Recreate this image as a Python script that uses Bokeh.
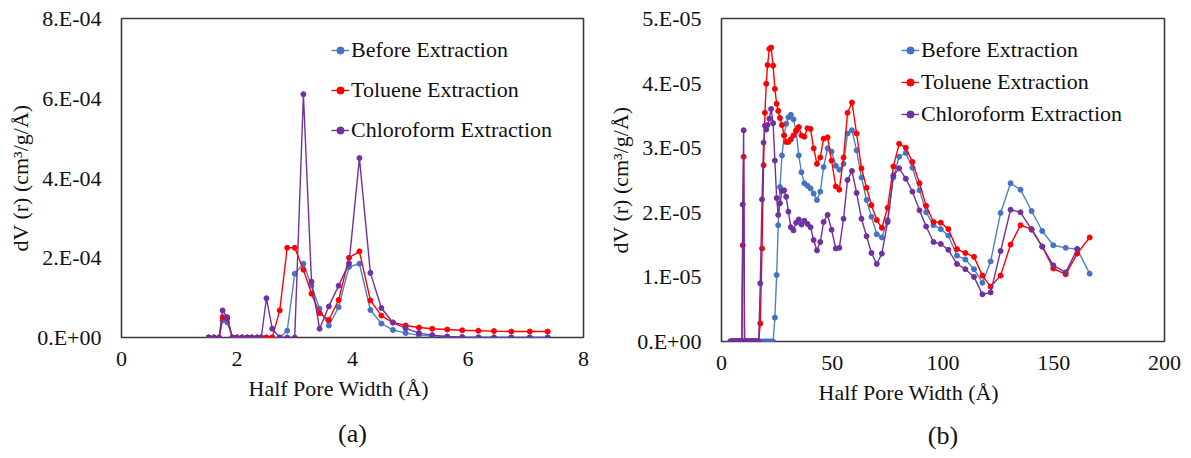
from bokeh.plotting import figure
from bokeh.models import FixedTicker, Title, Legend, LegendItem, Range1d
from bokeh.layouts import row, column
from bokeh.embed import file_html
from bokeh.resources import INLINE

# ---------------- Panel (a) data ----------------
half_width_a = [1.51, 1.60, 1.69, 1.75, 1.83, 1.92, 2.00, 2.09, 2.18, 2.26, 2.35, 2.42,
                2.51, 2.61, 2.74, 2.87, 3.00, 3.15, 3.29, 3.43, 3.59, 3.76, 3.94, 4.12,
                4.31, 4.50, 4.70, 4.92, 5.15, 5.38, 5.64, 5.90, 6.18, 6.45, 6.75, 7.07, 7.38]
before_a = [0, 0, 0, 0.43, 0.38, 0, 0, 0, 0, 0, 0, 0,
            0, 0, 0, 0.17, 1.60, 1.85, 1.30, 0.72, 0.30, 0.76, 1.77, 1.85,
            0.69, 0.35, 0.19, 0.11, 0.06, 0.035, 0.02, 0.01, 0.005, 0, 0, 0, 0]
toluene_a = [0, 0, 0, 0.51, 0.48, 0, 0, 0, 0, 0, 0, 0,
             0, 0, 0.68, 2.25, 2.25, 1.70, 1.10, 0.61, 0.44, 0.94, 2.00, 2.16,
             0.93, 0.55, 0.375, 0.30, 0.25, 0.22, 0.20, 0.18, 0.17, 0.16, 0.15, 0.15, 0.15]
chloroform_a = [0, 0, 0, 0.68, 0.51, 0, 0, 0, 0, 0, 0, 0,
                0.985, 0.22, 0, 0, 0, 6.10, 1.40, 0.22, 0.78, 1.30, 1.86, 4.50,
                1.62, 0.74, 0.375, 0.23, 0.11, 0.06, 0.025, 0.01, 0, 0, 0, 0, 0]
scale_a = 1e-4
yticks_a = [0, 2e-4, 4e-4, 6e-4, 8e-4]
ylabels_a = ["0.E+00", "2.E-04", "4.E-04", "6.E-04", "8.E-04"]
xticks_a = [0, 2, 4, 6, 8]

# ---------------- Panel (b) data ----------------
half_width_b = [4.0, 4.4, 4.8, 5.2, 5.6, 6.0, 6.4, 6.8, 7.2, 7.6, 8.0, 8.4, 8.8, 9.2, 9.6, 10.0, 10.4,
                10.8, 11.2, 11.6, 12.0, 12.4, 12.8, 13.2, 13.6, 14.0, 14.4, 14.8, 15.2, 15.6, 16.0, 16.4, 16.8,
                17.5, 18.3, 19.0, 19.6, 20.2, 20.8, 21.6, 22.4, 23.3, 24.1, 24.9, 25.6, 26.4, 27.3, 28.3,
                29.2, 30.2, 31.3, 32.5, 33.7, 34.9, 36.1, 37.4, 38.8, 40.2, 41.6, 43.1, 44.6, 46.1, 47.9,
                49.7, 51.6, 53.2, 55.1, 56.9, 58.9, 61.0, 63.2, 65.5, 67.7, 70.1, 72.4, 75.0, 77.6, 80.2,
                83.2, 86.2, 89.4, 92.4, 95.7, 99.0, 102.4, 106.3, 110.1, 114.0, 117.8, 121.5, 126.0, 130.5,
                135.0, 140.0, 144.8, 149.8, 155.4, 160.6, 166.2]
nan = float("nan")
before_b = [0] * 33 + [
    0, 0, 0, 0, 0, 0, 0, 0, 0, 0.37, 1.03, 1.80, 2.39, 2.88, 3.19,
    3.37, 3.47, 3.51, 3.44, 3.25, 2.88, 2.62, 2.45, 2.41, 2.37, 2.29, 2.19, 2.32, 2.70, 2.99,
    2.94, 2.72, 2.66, 2.75, 3.22, 3.27, 2.96, 2.54, 2.19, 1.93, 1.66, 1.61, 1.88, 2.54, 2.86,
    2.92, 2.69, 2.34, 2.00, 1.80, 1.74, 1.64, 1.33, 1.27, 1.12, 0.91, 1.24, 1.99, 2.45,
    2.35, 2.02, 1.71, 1.49, 1.45, 1.43, 1.05]
toluene_b = [0] * 14 + [1.49, 2.86] + [0] * 17 + [
    0.28, 1.44, 2.73, 3.54, 3.99, 4.28, 4.53, 4.55, 4.27, 3.91, 3.68, 3.57, 3.46, 3.35, 3.19,
    3.09, 3.09, 3.13, 3.19, 3.27, 3.32, 3.19, 3.17, 3.30, 3.29, 2.99, 2.75, 2.85, 3.14, 3.16,
    2.80, 2.40, 2.35, 2.85, 3.54, 3.70, 3.22, 2.68, 2.38, 2.11, 1.88, 1.76, 2.07, 2.71, 3.06,
    3.00, 2.78, 2.45, 2.10, 1.85, 1.84, 1.74, 1.43, 1.37, 1.31, 1.02, 0.85, 1.02, 1.50,
    1.80, 1.74, 1.47, 1.13, 1.04, 1.36, 1.61]
chloroform_b = [0] * 14 + [2.12, 3.27] + [0] * 17 + [
    0.90, 2.20, 3.08, 3.34, 3.28, 3.35, 3.45, 3.60, 3.38, 2.80, 2.22, 1.96, 2.14, 2.33, 2.34,
    2.24, 2.01, 1.77, 1.72, 1.84, 1.89, 1.81, 1.87, 1.82, 1.77, 1.57, 1.41, 1.54, 1.85, 1.96,
    1.73, 1.44, 1.45, 1.90, 2.50, 2.64, 2.30, 1.90, 1.63, 1.37, 1.20, 1.36, 1.85, 2.57, 2.68,
    2.52, 2.32, 2.03, 1.78, 1.54, 1.51, 1.42, 1.20, 1.12, 1.00, 0.73, 0.76, 1.40, 2.04,
    2.00, 1.73, 1.47, 1.18, 1.07, 1.43, nan]
scale_b = 1e-5
yticks_b = [0, 1e-5, 2e-5, 3e-5, 4e-5, 5e-5]
ylabels_b = ["0.E+00", "1.E-05", "2.E-05", "3.E-05", "4.E-05", "5.E-05"]
xticks_b = [0, 50, 100, 150, 200]

series_names = ["Before Extraction", "Toluene Extraction", "Chloroform Extraction"]
line_colors = ["#4F81BD", "#FF0000", "#7030A0"]
dot_colors = ["#4472C4", "#FF0000", "#7030A0"]
x_title = "Half Pore Width (Å)"
y_title = "dV (r) (cm³/g/Å)"

FONT = "Liberation Serif"
LEG_FONT = "Times New Roman"
TXT = "#111111"


def make_panel(xs, ys_list, scale, xr, yr, xticks, yticks, ylabels, caption,
               width, left, right, bottom, legend_loc, legend_spacing, xlab_offset,
               xlab_standoff, cap_standoff):
    p = figure(width=width, height=458, x_range=Range1d(*xr), y_range=Range1d(*yr),
               output_backend="svg", toolbar_location=None,
               min_border_left=left, min_border_right=right,
               min_border_top=18, min_border_bottom=bottom)
    p.xgrid.grid_line_color = None
    p.ygrid.grid_line_color = None
    p.outline_line_color = "#3a3a3a"
    p.outline_line_width = 1.6
    p.background_fill_color = "white"
    p.border_fill_color = "white"

    items = []
    for name, vals, lc, dc in zip(series_names, ys_list, line_colors, dot_colors):
        yv = [v * scale for v in vals]
        r1 = p.line(xs, yv, line_color=lc, line_width=1.4)
        r2 = p.scatter(xs, yv, size=5, fill_color=dc, line_color=dc)
        items.append(LegendItem(label=name, renderers=[r1, r2]))

    leg = Legend(items=items, location=legend_loc, orientation="vertical",
                 label_text_font=LEG_FONT, label_text_font_size="22px",
                 label_text_color=TXT, label_height=22, glyph_height=22,
                 glyph_width=18, label_standoff=2, spacing=legend_spacing,
                 padding=0, margin=0, border_line_alpha=0,
                 background_fill_alpha=0)
    p.add_layout(leg)

    for ax in (p.xaxis[0], p.yaxis[0]):
        ax.axis_line_color = None
        ax.major_tick_line_color = None
        ax.minor_tick_line_color = None
        ax.major_label_text_font = FONT
        ax.major_label_text_font_size = "22px"
        ax.major_label_text_color = TXT

    p.xaxis.ticker = FixedTicker(ticks=xticks)
    p.yaxis.ticker = FixedTicker(ticks=yticks)
    p.yaxis.major_label_overrides = {t: l for t, l in zip(yticks, ylabels)}
    p.xaxis.major_label_standoff = 8
    p.yaxis.major_label_standoff = 14

    p.add_layout(Title(text=y_title, align="center", text_font=FONT,
                       text_font_size="22px", text_font_style="normal",
                       text_color=TXT, standoff=4), "left")
    p.add_layout(Title(text=x_title, align="left", offset=xlab_offset, text_font=FONT,
                       text_font_size="22px", text_font_style="normal",
                       text_color=TXT, standoff=xlab_standoff), "below")
    p.add_layout(Title(text=caption, align="center", text_font=FONT,
                       text_font_size="26px", text_font_style="normal",
                       text_color=TXT, standoff=cap_standoff), "below")
    return p


pa = make_panel(half_width_a, [before_a, toluene_a, chloroform_a], scale_a,
                (0, 8), (0, 8e-4), xticks_a, yticks_a, ylabels_a, "(a)",
                width=600, left=121, right=17, bottom=121,
                legend_loc=(210, 194), legend_spacing=14, xlab_offset=127,
                xlab_standoff=11, cap_standoff=20)
pb = make_panel(half_width_b, [before_b, toluene_b, chloroform_b], scale_b,
                (0, 200), (0, 5e-5), xticks_b, yticks_b, ylabels_b, "(b)",
                width=591, left=121, right=27, bottom=117,
                legend_loc=(180, 214), legend_spacing=6, xlab_offset=97,
                xlab_standoff=11, cap_standoff=16)

layout = row(column(pa), column(pb), spacing=0)
open("out.html", "w").write(file_html(layout, INLINE))
